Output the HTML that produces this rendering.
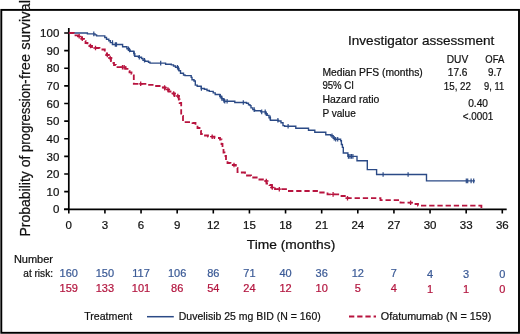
<!DOCTYPE html><html><head><meta charset="utf-8"><style>html,body{margin:0;padding:0;background:#fff;}svg{display:block;will-change:transform;}text{font-family:"Liberation Sans",sans-serif;stroke-width:0.22px;}</style></head><body>
<svg width="520" height="334" viewBox="0 0 520 334">
<rect x="0" y="0" width="520" height="334" fill="#fff"/>
<rect x="1.3" y="9.9" width="517.7" height="322.9" fill="none" stroke="#000" stroke-width="1.9"/>
<g transform="translate(30,236.5) rotate(-90)" font-size="13.8" fill="#111" stroke="#111"><text x="0" textLength="80.8" lengthAdjust="spacingAndGlyphs">Probability of</text><text x="84.5" textLength="72.6" lengthAdjust="spacingAndGlyphs">progression-</text><text x="157.4" textLength="79" lengthAdjust="spacingAndGlyphs">free survival</text></g>
<path d="M68.8 28 V209.3 M64 209.3 H506.7" stroke="#000" stroke-width="1.7" fill="none"/>
<path d="M64.2 209.30H68 M64.2 191.67H68 M64.2 174.04H68 M64.2 156.41H68 M64.2 138.78H68 M64.2 121.15H68 M64.2 103.52H68 M64.2 85.89H68 M64.2 68.26H68 M64.2 50.63H68 M64.2 33.00H68" stroke="#000" stroke-width="1.6"/>
<g font-size="11.5" fill="#111" stroke="#111"><text x="59.3" y="213.40" text-anchor="end">0</text><text x="59.3" y="195.77" text-anchor="end">10</text><text x="59.3" y="178.14" text-anchor="end">20</text><text x="59.3" y="160.51" text-anchor="end">30</text><text x="59.3" y="142.88" text-anchor="end">40</text><text x="59.3" y="125.25" text-anchor="end">50</text><text x="59.3" y="107.62" text-anchor="end">60</text><text x="59.3" y="89.99" text-anchor="end">70</text><text x="59.3" y="72.36" text-anchor="end">80</text><text x="59.3" y="54.73" text-anchor="end">90</text><text x="59.3" y="37.10" text-anchor="end">100</text></g>
<path d="M68.80 209.3V213.6 M104.92 209.3V213.6 M141.05 209.3V213.6 M177.18 209.3V213.6 M213.30 209.3V213.6 M249.43 209.3V213.6 M285.55 209.3V213.6 M321.68 209.3V213.6 M357.80 209.3V213.6 M393.93 209.3V213.6 M430.05 209.3V213.6 M466.18 209.3V213.6 M502.30 209.3V213.6" stroke="#000" stroke-width="1.6"/>
<g font-size="11.5" fill="#111" stroke="#111"><text x="68.80" y="229" text-anchor="middle">0</text><text x="104.92" y="229" text-anchor="middle">3</text><text x="141.05" y="229" text-anchor="middle">6</text><text x="177.18" y="229" text-anchor="middle">9</text><text x="213.30" y="229" text-anchor="middle">12</text><text x="249.43" y="229" text-anchor="middle">15</text><text x="285.55" y="229" text-anchor="middle">18</text><text x="321.68" y="229" text-anchor="middle">21</text><text x="357.80" y="229" text-anchor="middle">24</text><text x="393.93" y="229" text-anchor="middle">27</text><text x="430.05" y="229" text-anchor="middle">30</text><text x="466.18" y="229" text-anchor="middle">33</text><text x="502.30" y="229" text-anchor="middle">36</text></g>
<text x="291" y="249" text-anchor="middle" font-size="13.3" textLength="88.5" lengthAdjust="spacingAndGlyphs" fill="#111" stroke="#111">Time (months)</text>
<path d="M 68.8 33
H 87.4 V 33.9 H 95 V 34.9 H 96.6 V 35.9 H 104.8 V 37.5 H 106.5 V 39.3 H 108.8 V 40.8 H 110.3 V 42.6 H 112.5 V 44.5
H 122.6 V 46.8 H 126.9 V 48.7 H 128.5 V 50 H 130.1 V 51.3 H 133.8 V 53.6 H 134.8 V 56.2 H 138.5 V 57.3
H 141.5 V 58.5 H 143 V 60.2 H 145 V 61.3 H 148.5 V 62.3 H 150 V 63.1
H 165.6 V 64.2 H 171.3 V 64.9 H 173.5 V 66 H 175.5 V 67.3 H 177.8 V 68.5 H 179 V 70.8 H 180.5 V 73.2
H 183.5 V 75 H 185 V 75.6 H 191.2 V 77.4 H 192 V 79.8 H 194 V 81 H 195.3 V 85.1 H 197.2 V 86.3
H 201.2 V 88.5 H 204.4 V 89.3 H 207 V 90.5 H 209.3 V 91.4 H 213.2 V 92.9 H 215.2 V 94.5 H 219.8 V 96.3
H 221.6 V 98.7 H 223.4 V 100.4 H 224.3 V 101.2 H 234.8 V 102.5 H 246.5 V 103.3 H 248.5 V 104.8 H 250 V 105.6
H 251 V 107.9 H 252.8 V 109.6 H 254.6 V 110.8 H 260.8 V 111.9 H 265.5 V 113.7 H 267.2 V 115.4 H 269 V 117.7
H 270.4 V 120.3 H 278.5 V 121 H 281 V 122.7 H 283 V 125.6 H 284.6 V 126.2 H 295.8 V 128.2 H 308.5 V 130.2
H 314.8 V 132.2 H 325.8 V 134.7 H 330.8 V 135.8 H 333.2 V 138.2 H 334.8 V 139.2 H 340.6 V 140.7 H 341.4 V 144.5
H 342.4 V 147.4 H 343.3 V 153 H 347.9 V 156.4 H 357 V 160.8 H 367.3 V 169.6 H 376.6 V 174.5 H 426.5 V 180.9 H 475" stroke="#2b4a86" stroke-width="1.38" fill="none"/>
<path d="M93.8 31.6V36.2 M112.5 40.3V44.9 M115.3 42.2V46.8 M116.5 42.2V46.8 M128.4 46.4V51.0 M129.5 47.7V52.3 M134.2 51.3V55.9 M139.3 55.0V59.6 M144.5 57.9V62.5 M160.7 60.8V65.4 M177.5 65.0V69.6 M178.4 66.2V70.8 M201.4 86.2V90.8 M220.3 94.0V98.6 M222.0 96.4V101.0 M224.0 98.1V102.7 M224.8 98.9V103.5 M227.1 98.9V103.5 M243.3 100.2V104.8 M254.2 107.3V111.9 M261.7 109.6V114.2 M265.2 109.6V114.2 M266.3 111.4V116.0 M270.2 115.4V120.0 M277.9 118.0V122.6 M288.1 123.9V128.5 M332.0 133.5V138.1 M334.2 135.9V140.5 M335.7 136.9V141.5 M337.7 136.9V141.5 M348.4 154.1V158.7 M349.9 154.1V158.7 M351.4 154.1V158.7 M352.9 154.1V158.7 M383.1 172.2V176.8 M408.1 172.2V176.8 M466.3 178.6V183.2 M467.7 178.6V183.2 M471.1 178.6V183.2 M473.7 178.6V183.2" stroke="#2b4a86" stroke-width="1.2" fill="none"/>
<path d="M 68.8 33 H 73.8 V 35.4 H 78 V 36.3 H 80 V 37.5 H 82 V 38.8 H 84 V 41 H 85.5 V 43 H 87.5 V 44.8 H 90 V 46 H 92 V 48
H 99.5 V 49.5 H 104.8 V 52 H 106.8 V 55 H 108.8 V 58 H 111 V 61 H 112.6 V 63 H 114 V 65 H 115.8 V 67.2 H 125.5 V 68.8
H 127.5 V 70.8 H 129.5 V 72.3 H 131.5 V 73.8 H 133.8 V 83.8
H 147 V 84.8 H 154.5 V 86 H 161.5 V 87.5 H 165 V 89.5 H 168.5 V 91.5 H 171.5 V 93.5 H 174.5 V 96 H 178.8 V 99.5
H 179.6 V 103 H 181.2 V 116 H 183 V 122.1 H 192.5 V 123 H 195.5 V 125 H 197.5 V 128 H 199.5 V 131 H 201 V 134 H 203.5 V 135.5 H 208 V 136.7 H 214.5 V 138 H 220 V 139.5
H 221.5 V 144 H 222.5 V 148.5 H 223.5 V 152.5 H 224.5 V 156 H 226 V 160 H 227.5 V 163 H 230.5 V 165 H 235.8 V 168 H 237.5 V 172
H 240.5 V 172.5 H 245 V 175.5 H 251 V 177.5 H 258 V 179.5 H 264.5 V 181 H 266.5 V 183.5 H 269.5 V 185 H 272 V 187.5 H 275 V 189.2 H 287.5 V 191 H 318.5 V 192.5 H 327.5 V 194.4 H 341.5 V 196 H 345.8 V 198.2
H 380.5 V 200.1 H 400.5 V 202.7 H 415.5 V 204 H 418 V 205.6 H 481.4 V 208.8" stroke="#b8143f" stroke-width="1.8" fill="none" stroke-dasharray="5.3 2.9"/>
<path d="M79.2 34.0V38.6 M77.0 36.3H81.4 M82.3 36.5V41.1 M80.1 38.8H84.5 M90.5 43.7V48.3 M88.3 46.0H92.7 M95.5 45.7V50.3 M93.3 48.0H97.7 M107.3 52.7V57.3 M105.1 55.0H109.5 M110.2 55.7V60.3 M108.0 58.0H112.4 M122.5 64.9V69.5 M120.3 67.2H124.7 M124.2 64.9V69.5 M122.0 67.2H126.4 M140.7 81.5V86.1 M138.5 83.8H142.9 M164.6 85.2V89.8 M162.4 87.5H166.8 M167.9 87.2V91.8 M165.7 89.5H170.1 M173.7 91.2V95.8 M171.5 93.5H175.9 M177.8 93.7V98.3 M175.6 96.0H180.0 M212.2 134.4V139.0 M210.0 136.7H214.4 M234.0 162.7V167.3 M231.8 165.0H236.2 M266.3 178.7V183.3 M264.1 181.0H268.5 M272.3 185.2V189.8 M270.1 187.5H274.5 M279.3 186.9V191.5 M277.1 189.2H281.5 M333.1 192.1V196.7 M330.9 194.4H335.3 M347.5 195.9V200.5 M345.3 198.2H349.7 M410.6 200.4V205.0 M408.4 202.7H412.8" stroke="#b8143f" stroke-width="1.3" fill="none"/>
<text x="348" y="44.6" font-size="13.6" textLength="146.3" lengthAdjust="spacingAndGlyphs" fill="#111" stroke="#111">Investigator assessment</text>
<g font-size="10.8" fill="#111" stroke="#111">
<text x="446.7" y="62.9" textLength="21.5" lengthAdjust="spacingAndGlyphs">DUV</text><text x="485.3" y="62.9" textLength="18.9" lengthAdjust="spacingAndGlyphs">OFA</text>
<text x="322.4" y="75.8" textLength="100.4" lengthAdjust="spacingAndGlyphs">Median PFS (months)</text>
<text x="447.8" y="76" textLength="19.7" lengthAdjust="spacingAndGlyphs">17.6</text><text x="488" y="76" textLength="13.7" lengthAdjust="spacingAndGlyphs">9.7</text>
<text x="322.4" y="89.4" textLength="31.6" lengthAdjust="spacingAndGlyphs">95% CI</text>
<text x="443.8" y="89.6" textLength="27.2" lengthAdjust="spacingAndGlyphs">15, 22</text><text x="484.1" y="89.6" textLength="20" lengthAdjust="spacingAndGlyphs">9, 11</text>
<text x="322.4" y="103.1" textLength="57" lengthAdjust="spacingAndGlyphs">Hazard ratio</text>
<text x="468.2" y="107.2" textLength="19.8" lengthAdjust="spacingAndGlyphs">0.40</text>
<text x="322.4" y="116.9" textLength="33.4" lengthAdjust="spacingAndGlyphs">P value</text>
<text x="462.7" y="119.6" textLength="30.6" lengthAdjust="spacingAndGlyphs">&lt;.0001</text>
</g>
<g font-size="11" fill="#111" stroke="#111"><text x="53" y="262.5" text-anchor="end">Number</text><text x="53" y="276.6" text-anchor="end" textLength="29.7" lengthAdjust="spacingAndGlyphs">at risk:</text></g>
<g font-size="11" fill="#3b5a96" stroke="#3b5a96" text-anchor="middle"><text x="68.80" y="276.9">160</text><text x="104.92" y="276.9">150</text><text x="141.05" y="276.9">117</text><text x="177.18" y="276.9">106</text><text x="213.30" y="276.9">86</text><text x="249.43" y="276.9">71</text><text x="285.55" y="276.9">40</text><text x="321.68" y="276.9">36</text><text x="357.80" y="276.9">12</text><text x="393.93" y="276.9">7</text><text x="430.05" y="278.0">4</text><text x="466.18" y="278.0">3</text><text x="502.30" y="278.0">0</text></g>
<g font-size="11" fill="#b3163f" stroke="#b3163f" text-anchor="middle"><text x="68.80" y="291.9">159</text><text x="104.92" y="291.9">133</text><text x="141.05" y="291.9">101</text><text x="177.18" y="291.9">86</text><text x="213.30" y="291.9">54</text><text x="249.43" y="291.9">24</text><text x="285.55" y="291.9">12</text><text x="321.68" y="291.9">10</text><text x="357.80" y="291.9">5</text><text x="393.93" y="291.9">4</text><text x="430.05" y="293.0">1</text><text x="466.18" y="293.0">1</text><text x="502.30" y="293.0">0</text></g>
<g font-size="11" fill="#111" stroke="#111"><text x="84.2" y="320.2" textLength="48" lengthAdjust="spacingAndGlyphs">Treatment</text>
<text x="178.8" y="320.2" textLength="142" lengthAdjust="spacingAndGlyphs">Duvelisib 25 mg BID (N = 160)</text>
<text x="380.8" y="320.2" textLength="110.5" lengthAdjust="spacingAndGlyphs">Ofatumumab (N = 159)</text></g>
<path d="M147 316.7H173.8" stroke="#2b4a86" stroke-width="1.5"/>
<path d="M349 316.5H376" stroke="#b8143f" stroke-width="1.9" stroke-dasharray="5.3 2.9"/>
</svg></body></html>
